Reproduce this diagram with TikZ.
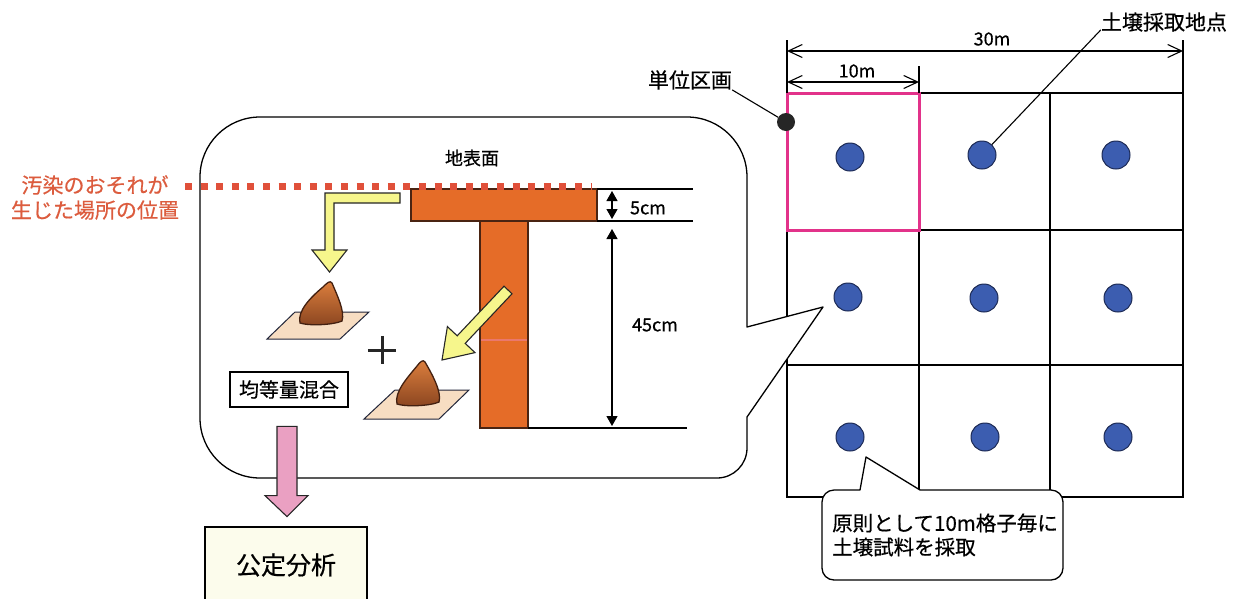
\documentclass[tikz,border=0pt]{standalone}
\usepackage{fontspec}
\setmainfont{Noto Sans CJK JP}[FakeBold=0.5]
\usetikzlibrary{arrows.meta,calc}

\definecolor{riskred}{HTML}{DC5C3E}
\definecolor{dotred}{HTML}{E0503A}
\definecolor{tee}{HTML}{E56C28}
\definecolor{teeline}{HTML}{4A2412}
\definecolor{arrowyellow}{HTML}{F6F68C}
\definecolor{arrowpink}{HTML}{EAA0C2}
\definecolor{cellpink}{HTML}{E2328A}
\definecolor{sampleblue}{HTML}{3C5DB0}
\definecolor{sampleedge}{HTML}{1C2A55}
\definecolor{tray}{HTML}{F7DDC2}
\definecolor{trayedge}{HTML}{22263A}
\definecolor{soiltop}{HTML}{DE803E}
\definecolor{soilbot}{HTML}{8A4520}
\definecolor{cream}{HTML}{FCFCEC}

\newcommand\jfs[2]{\fontsize{#1}{#2}\selectfont}

\tikzset{
  txt/.style={inner sep=0pt, font=\jfs{21}{25}},
  smalltxt/.style={inner sep=0pt, font=\jfs{18}{22}},
  gridout/.style={line width=2.8pt, line join=miter},
  gridin/.style={line width=1.3pt},
  pinkbox/.style={draw=cellpink, line width=3pt},
  sdot/.style={circle, fill=sampleblue, draw=sampleedge, line width=1pt, minimum size=28pt, inner sep=0pt},
  leader/.style={line width=1.1pt},
  dimtick/.style={line width=1.1pt},
  dimopen/.style={line width=1.1pt, {Straight Barb[length=14pt,width=13pt,line width=1.1pt]}-{Straight Barb[length=14pt,width=13pt,line width=1.1pt]}},
  dimsolid/.style={line width=1.2pt, {Triangle[length=10pt,width=11pt]}-{Triangle[length=10pt,width=11pt]}},
  bubble/.style={draw=black, fill=white, line width=1.3pt, line join=round},
  fatarrow/.style={draw=black!85, line width=1.1pt, line join=miter},
  framebox/.style={draw=black, line width=2.8pt, inner sep=0pt},
  teepart/.style={fill=tee, draw=teeline, line width=1.1pt},
  trayshape/.style={fill=tray, draw=trayedge, line width=1pt},
  soil/.style={top color=soiltop, bottom color=soilbot, draw=teeline!90!black, line width=1.3pt},
}

\begin{document}
\begin{tikzpicture}[x=1pt,y=-1pt]
\useasboundingbox (0,0) rectangle (1242,598);
\clip (0,0) rectangle (1242,598);
\fill[white] (0,0) rectangle (1242,598);

% ---------- 30 m x 30 m sampling grid ----------
\foreach \x in {919,1050} \draw[gridin] (\x,93) -- (\x,497);
\foreach \y in {230,365} \draw[gridin] (787,\y) -- (1183,\y);
\draw[gridout] (787,93) rectangle (1183,497);
\draw[pinkbox] (787,93) rectangle (919,230);

\foreach \x/\y/\n in {850/157/a1, 982/155/a2, 1116/155/a3,
                      848/297/b1, 984/298/b2, 1118/298/b3,
                      850/437/c1, 985/437/c2, 1118/437/c3}
  \node[sdot] (d-\n) at (\x,\y) {};

% dimensions above the grid
\coordinate (g-tl) at (787,93);
\coordinate (g-tm) at (919,93);
\coordinate (g-tr) at (1183,93);
\coordinate (t30L) at (787,40);
\coordinate (t30R) at (1183,40);
\coordinate (t10R) at (919,66);
\draw[dimtick] (t30L) -- (g-tl);
\draw[dimtick] (t30R) -- (g-tr);
\draw[dimtick] (t10R) -- (g-tm);
\draw[dimopen] (787,51) -- (1183,51);
\draw[dimopen] (787,82) -- (919,82);
\node[smalltxt] (l30) at (992,39) {30m};
\node[smalltxt] (l10) at (857,71) {10m};

% labels with leader lines
\node[txt] (soilpt) at (1164,22) {土壌採取地点};
\draw[leader] ($(soilpt.south west)+(0,-2)$) -- (d-a2);
\node[circle, fill=black!85, inner sep=0pt, minimum size=18pt] (corner) at (786,122) {};
\node[txt] (unit) at (690,80) {単位区画};
\draw[leader] (unit.south east) -- (corner);

% ---------- callout with the soil profile ----------
\draw[bubble] (747,327) -- (747,177) arc[start angle=0, end angle=-90, radius=60]
  -- (260,117) arc[start angle=-90, end angle=-180, radius=60]
  -- (200,418) arc[start angle=180, end angle=90, radius=60]
  -- (717,478) arc[start angle=90, end angle=0, radius=30]
  -- (747,417) -- (823,307) -- cycle;

% note below the grid
\draw[bubble] (860,490) -- (866,457) -- (920,490) -- (1051,490)
  arc[start angle=-90, end angle=0, radius=12] -- (1063,568)
  arc[start angle=0, end angle=90, radius=12] -- (834,580)
  arc[start angle=90, end angle=180, radius=12] -- (822,502)
  arc[start angle=180, end angle=270, radius=12] -- cycle;
\node[txt, align=left, anchor=west, font=\jfs{20.5}{24}] (rule) at (832,535)
  {原則として10m格子毎に\\土壌試料を採取};

% ground surface label
\node[smalltxt] (surface) at (472,158) {地表面};

% T-shaped sampling depth
\fill[teepart] (411,189) rectangle (597,221);
\fill[teepart] (480,221) rectangle (528,428);
\draw[teeline, line width=1.1pt] (411,189) rectangle (597,221);
\draw[teeline, line width=1.1pt] (480,221.5) -- (480,428) -- (528,428) -- (528,221.5);
\draw[arrowpink!80!red, line width=1.3pt, opacity=0.6] (481,340) -- (527,340);

% reference lines and depth dimensions
\coordinate (s0) at (597,189);
\coordinate (s5) at (597,221);
\coordinate (s50) at (528,428);
\draw[line width=1.1pt] (s0) -- (693,189);
\draw[line width=1.1pt] (s5) -- (693,221);
\draw[line width=1.1pt] (s50) -- (687,428);
\draw[dimsolid] (612,191) -- (612,219);
\draw[dimsolid] (612,229) -- (612,426);
\node[smalltxt] (d5) at (648,208) {5cm};
\node[smalltxt] (d45) at (655,325) {45cm};

% red dotted line: level of possible contamination
\node[txt, text=riskred, align=center] (risk) at (95,197.5)
  {汚染のおそれが\\生じた場所の位置};
\coordinate (dotL) at (185,186);
\coordinate (dotR) at (592,186);
\draw[dotred, line width=7pt, dash pattern=on 7pt off 8.6pt] (dotL) -- (dotR);

% yellow arrows to the two samples
\filldraw[fatarrow, fill=arrowyellow]
  (400,193) -- (325,193) -- (325,250) -- (312,250) -- (329.5,272) -- (347,250)
  -- (334,250) -- (334,203) -- (400,203) -- cycle;
\filldraw[fatarrow, fill=arrowyellow]
  (504,286.2) -- (512,293.8) -- (465.2,343.4) -- (475,352.6) -- (442,360)
  -- (447.4,326.6) -- (457.2,335.8) -- cycle;

% sample 1 (surface layer)
\filldraw[trayshape] (267,339) -- (340,339) -- (369,312) -- (295,312) -- cycle;
\begin{scope}[shift={(321,323)}]
  \shadedraw[soil] (-21,0) .. controls (-24,-12) and (-10,-26) .. (2,-36)
    .. controls (6,-40) and (9,-43) .. (11,-40)
    .. controls (16,-28) and (24,-12) .. (21,-2)
    .. controls (12,2) and (-12,3) .. (-21,0) -- cycle;
\end{scope}

% sample 2 (deeper layer)
\filldraw[trayshape] (364,419) -- (439,419) -- (469,390) -- (395,390) -- cycle;
\begin{scope}[shift={(418,404)}]
  \shadedraw[soil] (-21,0) .. controls (-24,-12) and (-10,-27) .. (-1,-38)
    .. controls (2,-42) and (5,-45) .. (7,-42)
    .. controls (14,-30) and (24,-12) .. (21,-2)
    .. controls (12,2) and (-12,3) .. (-21,0) -- cycle;
\end{scope}

% plus sign
\node[inner sep=0pt, minimum size=28pt] (plus) at (382,350) {};
\draw[line width=3pt, black!85] (plus.west) -- (plus.east);
\draw[line width=3pt, black!85] (plus.north) -- (plus.south);

% mixing and analysis boxes
\node[framebox, minimum width=118pt, minimum height=35pt, font=\jfs{20}{24}] (mix) at (289,389.5) {均等量混合};
\node[framebox, fill=cream, minimum width=162pt, minimum height=76pt, font=\jfs{25}{30}] (kotei) at (286,565) {公定分析};

% pink arrow from mixing to analysis
\coordinate (pa) at ($(mix.south)+(-2,18)$);
\coordinate (pb) at ($(kotei.north)+(1,-9)$);
\filldraw[fatarrow, fill=arrowpink]
  ($(pa)+(-10,0)$) -- ($(pa)+(10,0)$) -- ($(pb)+(10,-21)$) -- ($(pb)+(21,-21)$)
  -- (pb) -- ($(pb)+(-22,-21)$) -- ($(pb)+(-10,-21)$) -- cycle;
\end{tikzpicture}
\end{document}
